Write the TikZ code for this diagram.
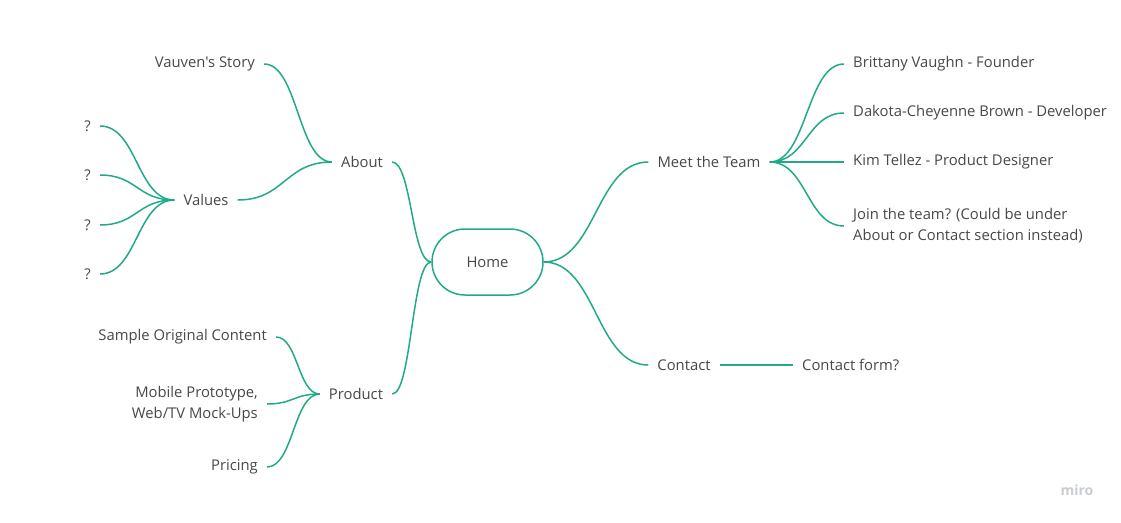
\documentclass[tikz,border=0pt]{standalone}
\usepackage{fontspec}
\setmainfont{Open Sans}[Ligatures=TeXOff]
\usetikzlibrary{calc}
\definecolor{vert}{HTML}{21A98A}
\definecolor{texte}{HTML}{474747}
\definecolor{filigrane}{HTML}{C9CCD4}

\begin{document}
\begin{tikzpicture}[x=1pt, y=-1pt]
			\tikzset{noeud/.style={text=texte, font=\fontsize{14.8}{21}\selectfont, inner xsep=9pt, inner ysep=2pt, yshift=-1pt},
				racine/.style={noeud, draw=vert, line width=1.5pt, rounded corners=33pt, minimum width=111pt, minimum height=66pt, yshift=1pt},
				branche/.style={draw=vert, line width=1.5pt, to path={let \p1=(\tikztostart), \p2=(\tikztotarget) in .. controls ({(\x1+\x2)/2},\y1) and ({(\x1+\x2)/2},\y2) .. (\tikztotarget)}}};

			\useasboundingbox (0,0) rectangle (1121,522);

			\node[racine] (home) at (487.5, 262) {Home};

			\node[noeud] (about)   at (362, 161) {About};
			\node[noeud] (values)  at (206, 199) {Values};
			\node[noeud] (product) at (356, 393) {Product};
			\node[noeud] (meet)    at (709, 161) {Meet the Team};
			\node[noeud] (contact) at (684, 364) {Contact};

			\node[noeud, anchor=east] (story)   at (264,  63) {Vauven's Story};
			\node[noeud, anchor=east] (q1)      at (100, 125) {?};
			\node[noeud, anchor=east] (q2)      at (100, 174) {?};
			\node[noeud, anchor=east] (q3)      at (100, 224) {?};
			\node[noeud, anchor=east] (q4)      at (100, 273) {?};
			\node[noeud, anchor=east] (sample)  at (276, 336) {Sample Original Content};
			\node[noeud, anchor=east, align=right] (mobile) at (267, 403) {Mobile Prototype,\\Web/TV Mock-Ups};
			\node[noeud, anchor=east] (pricing) at (267, 466) {Pricing};

			\node[noeud, anchor=west] (brittany) at (844,  63) {Brittany Vaughn - Founder};
			\node[noeud, anchor=west] (dakota)   at (844, 112) {Dakota-Cheyenne Brown - Developer};
			\node[noeud, anchor=west] (kim)      at (844, 161) {Kim Tellez - Product Designer};
			\node[noeud, anchor=west, align=left] (join) at (844, 225) {Join the team? (Could be under\\About or Contact section instead)};
			\node[noeud, anchor=west] (form)     at (793, 364) {Contact form?};

			\node[font=\bfseries\fontsize{14}{14}\selectfont, text=filigrane] (miro) at (1077, 490) {miro};


			\draw[branche] (about.east) to (home.west);
			\draw[branche] (product.east) to (home.west);
			\draw[branche] (home.east) to (meet.west);
			\draw[branche] (home.east) to (contact.west);

			\draw[branche] (about.west) to (story.east);
			\draw[branche] (about.west) to (values.east);
			\foreach \q in {q1, q2, q3, q4}
				\draw[branche] (values.west) to (\q.east);

			\draw[branche] (product.west) to (sample.east);
			\draw[branche] (product.west) to (mobile.east);
			\draw[branche] (product.west) to (pricing.east);

			\foreach \m in {brittany, dakota, kim, join}
				\draw[branche] (meet.east) to (\m.west);
			\draw[branche] (contact.east) to (form.west);

		\end{tikzpicture}
\end{document}
